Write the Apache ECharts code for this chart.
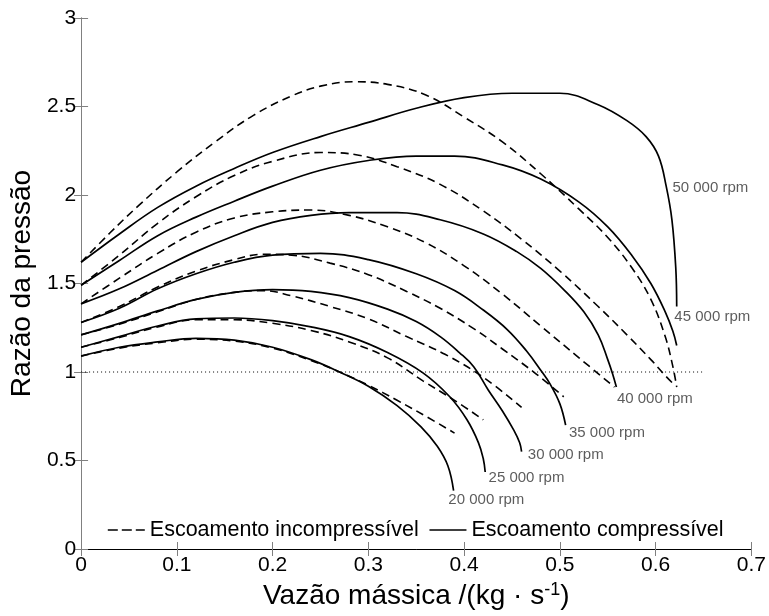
<!DOCTYPE html>
<html><head><meta charset="utf-8">
<script src="https://cdn.jsdelivr.net/npm/echarts@6/dist/echarts.min.js"></script>
<style>html,body{margin:0;padding:0;background:#fff}#c{width:769px;height:616px}</style>
</head><body><div id="c"></div>
<script>
// ---- data ----
const speedLabels = ['20 000 rpm','25 000 rpm','30 000 rpm','35 000 rpm','40 000 rpm','45 000 rpm','50 000 rpm'];
const labelAt = [[0.383,0.28],[0.425,0.40],[0.466,0.53],[0.509,0.655],[0.559,0.85],[0.619,1.31],[0.617,2.04]];

const inc20 = [[0,1.09],[0.04,1.135],[0.08,1.165],[0.12,1.185],[0.16,1.175],[0.2,1.135],[0.24,1.065],[0.27,1.0],[0.3,0.925],[0.33,0.84],[0.36,0.75],[0.39,0.655]];
const comp20 = [[0,1.09],[0.04,1.14],[0.08,1.17],[0.12,1.19],[0.16,1.18],[0.2,1.14],[0.24,1.07],[0.27,1.0],[0.3,0.92],[0.33,0.81],[0.355,0.69],[0.372,0.58],[0.383,0.47],[0.389,0.33]];

const inc25 = [[0,1.14],[0.04,1.195],[0.08,1.255],[0.12,1.295],[0.16,1.295],[0.2,1.275],[0.24,1.235],[0.28,1.17],[0.32,1.08],[0.357,0.95],[0.39,0.84],[0.42,0.73]];
const comp25 = [[0,1.14],[0.04,1.2],[0.08,1.26],[0.12,1.3],[0.16,1.305],[0.2,1.29],[0.24,1.255],[0.28,1.2],[0.32,1.11],[0.357,0.995],[0.385,0.86],[0.403,0.73],[0.415,0.6],[0.42,0.51],[0.422,0.435]];

const inc30 = [[0,1.21],[0.04,1.27],[0.08,1.34],[0.12,1.41],[0.16,1.45],[0.19,1.46],[0.22,1.43],[0.26,1.37],[0.3,1.3],[0.34,1.2],[0.38,1.1],[0.42,0.97],[0.46,0.8]];
const comp30 = [[0,1.21],[0.04,1.275],[0.08,1.345],[0.12,1.41],[0.16,1.45],[0.2,1.465],[0.24,1.455],[0.28,1.42],[0.32,1.355],[0.35,1.285],[0.375,1.2],[0.395,1.11],[0.41,1.03],[0.425,0.9],[0.44,0.78],[0.452,0.67],[0.458,0.6],[0.46,0.55]];

const inc35 = [[0,1.28],[0.04,1.37],[0.08,1.48],[0.12,1.57],[0.16,1.635],[0.19,1.665],[0.22,1.66],[0.26,1.615],[0.3,1.55],[0.34,1.455],[0.375,1.36],[0.41,1.245],[0.44,1.13],[0.475,0.99],[0.504,0.86]];
const comp35 = [[0,1.28],[0.04,1.36],[0.08,1.47],[0.12,1.555],[0.16,1.62],[0.2,1.66],[0.25,1.67],[0.3,1.635],[0.35,1.555],[0.39,1.46],[0.42,1.35],[0.445,1.24],[0.465,1.12],[0.48,1.01],[0.49,0.93],[0.5,0.82],[0.506,0.7]];

const inc40 = [[0,1.385],[0.04,1.53],[0.08,1.67],[0.12,1.79],[0.16,1.87],[0.2,1.905],[0.24,1.915],[0.28,1.885],[0.32,1.82],[0.36,1.73],[0.4,1.6],[0.44,1.44],[0.48,1.26],[0.52,1.08],[0.557,0.915]];
const comp40 = [[0,1.385],[0.04,1.47],[0.08,1.575],[0.12,1.68],[0.16,1.77],[0.2,1.845],[0.24,1.885],[0.28,1.9],[0.33,1.9],[0.375,1.86],[0.42,1.78],[0.455,1.68],[0.48,1.585],[0.505,1.46],[0.525,1.34],[0.54,1.21],[0.55,1.07],[0.555,0.99],[0.559,0.915]];

const inc45 = [[0,1.49],[0.04,1.66],[0.08,1.84],[0.12,1.99],[0.16,2.11],[0.2,2.19],[0.25,2.24],[0.29,2.225],[0.33,2.16],[0.375,2.06],[0.42,1.91],[0.46,1.75],[0.5,1.57],[0.54,1.37],[0.57,1.21],[0.595,1.07],[0.61,0.98],[0.619,0.93]];
const comp45 = [[0,1.49],[0.04,1.63],[0.08,1.77],[0.12,1.875],[0.16,1.965],[0.2,2.05],[0.25,2.14],[0.3,2.195],[0.35,2.22],[0.39,2.22],[0.44,2.17],[0.48,2.09],[0.52,1.96],[0.55,1.82],[0.575,1.66],[0.595,1.5],[0.61,1.34],[0.618,1.23],[0.622,1.15]];

const inc50 = [[0,1.62],[0.03,1.785],[0.06,1.94],[0.1,2.13],[0.14,2.3],[0.18,2.45],[0.22,2.56],[0.25,2.615],[0.285,2.64],[0.32,2.625],[0.36,2.565],[0.4,2.44],[0.44,2.3],[0.48,2.12],[0.52,1.92],[0.55,1.76],[0.575,1.59],[0.595,1.41],[0.61,1.2],[0.618,1.03],[0.622,0.915]];
const comp50 = [[0,1.62],[0.04,1.78],[0.08,1.93],[0.12,2.05],[0.16,2.15],[0.2,2.24],[0.25,2.33],[0.3,2.41],[0.35,2.49],[0.4,2.55],[0.45,2.575],[0.5,2.575],[0.54,2.51],[0.57,2.42],[0.59,2.33],[0.603,2.22],[0.611,2.05],[0.617,1.86],[0.621,1.59],[0.622,1.37]];

const refLine = [[0,1],[0.65,1]];
const incCurves = [inc20, inc25, inc30, inc35, inc40, inc45, inc50];
const compCurves = [comp20, comp25, comp30, comp35, comp40, comp45, comp50];
const nameInc = 'Escoamento incompressível';
const nameComp = 'Escoamento compressível';

// ---- chart ----
const FONT = '"Liberation Sans", Arial, Helvetica, sans-serif';
const chart = echarts.init(document.getElementById('c'), null, {renderer: 'canvas'});
const series = [];
series.push({
  type: 'line', name: 'ref', data: refLine, symbol: 'none', silent: true,
  lineStyle: {color: '#000', width: 1, type: [1, 3]}, z: 1
});
incCurves.forEach(c => series.push({
  type: 'line', name: nameInc, data: c, symbol: 'none', smooth: 0.4,
  lineStyle: {color: '#000', width: 1.6, type: [8, 5]}, itemStyle: {color: '#000'}, z: 2
}));
compCurves.forEach(c => series.push({
  type: 'line', name: nameComp, data: c, symbol: 'none', smooth: 0.4,
  lineStyle: {color: '#000', width: 1.7, type: 'solid'}, itemStyle: {color: '#000'}, z: 3
}));
series.push({
  type: 'scatter', name: 'labels', symbolSize: 1, silent: true,
  itemStyle: {color: 'rgba(0,0,0,0)'},
  data: speedLabels.map((s, i) => ({name: s, value: labelAt[i]})),
  label: {show: true, formatter: '{b}', position: 'right', distance: 0,
          fontSize: 15, color: '#333', fontFamily: FONT}
});

const axisLineGray = {show: true, lineStyle: {color: '#808080', width: 1}};
chart.setOption({
  animation: false,
  backgroundColor: '#fff',
  grid: {left: 80, right: 17, top: 18, bottom: 67, containLabel: false},
  legend: {
    data: [
      {name: nameInc, itemStyle: {opacity: 0}, lineStyle: {color: '#000', width: 1.6, type: [10, 4]}},
      {name: nameComp, itemStyle: {opacity: 0}, lineStyle: {color: '#000', width: 1.6, type: 'solid'}}
    ],
    left: 102, top: 514,
    itemWidth: 37, itemHeight: 14, itemGap: 10,
    itemStyle: {opacity: 0},
    textStyle: {fontSize: 21.5, color: '#000', fontFamily: FONT},
    selectedMode: false
  },
  xAxis: [{
    type: 'value', min: 0, max: 0.7, interval: 0.1, position: 'bottom',
    axisLine: axisLineGray,
    axisTick: {show: true, inside: true, length: 7, lineStyle: {color: '#808080'}},
    splitLine: {show: false},
    axisLabel: {fontSize: 21, color: '#000', fontFamily: FONT, margin: 6},
    name: 'Vazão mássica /(kg · s{sup|-1})', nameLocation: 'middle', nameGap: 32,
    nameTextStyle: {fontSize: 28, color: '#000', fontFamily: FONT, lineHeight: 30,
      rich: {sup: {fontSize: 18, verticalAlign: 'top', lineHeight: 30, fontFamily: FONT, color: '#000'}}}
  }, {
    type: 'value', min: 0, max: 0.7, interval: 0.1, position: 'top',
    axisLine: {show: true, lineStyle: {color: '#000', width: 1}},
    axisTick: {show: true, inside: true, length: 7, lineStyle: {color: '#808080'}},
    axisLabel: {show: false}, splitLine: {show: false}
  }],
  yAxis: [{
    type: 'value', min: 0, max: 3, interval: 0.5, position: 'left',
    axisLine: axisLineGray,
    axisTick: {show: true, inside: true, length: 7, lineStyle: {color: '#808080'}},
    splitLine: {show: false},
    axisLabel: {fontSize: 21, color: '#000', fontFamily: FONT, margin: 5},
    name: 'Razão da pressão', nameLocation: 'middle', nameGap: 40, nameRotate: 90,
    nameTextStyle: {fontSize: 28, color: '#000', fontFamily: FONT}
  }, {
    type: 'value', min: 0, max: 3, interval: 0.5, position: 'right',
    axisLine: axisLineGray,
    axisTick: {show: true, inside: true, length: 7, lineStyle: {color: '#808080'}},
    axisLabel: {show: false}, splitLine: {show: false}
  }],
  series: series
});
</script></body></html>
